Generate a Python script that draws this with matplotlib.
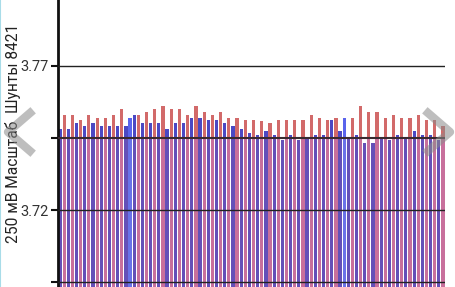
import numpy as np
import matplotlib
matplotlib.use('Agg')
import matplotlib.pyplot as plt
from matplotlib.lines import Line2D

# cell voltages, pairs of (blue, red)
blue_v = [3.7481, 3.7481, 3.7502, 3.7490, 3.7502, 3.7490, 3.7490, 3.7490,
          3.7490, 3.7531, 3.7502, 3.7502, 3.7502, 3.7481, 3.7502, 3.7502,
          3.7521, 3.7521, 3.7511, 3.7511, 3.7502, 3.7493, 3.7481, 3.7469,
          3.7462, 3.7473, 3.7462, 3.7444, 3.7462, 3.7442, 3.7454, 3.7462,
          3.7462, 3.7511, 3.7473, 3.7454, 3.7462, 3.7433, 3.7433, 3.7454,
          3.7444, 3.7462, 3.7454, 3.7473, 3.7462, 3.7462, 3.7442]
red_v = [3.7531, 3.7531, 3.7511, 3.7531, 3.7521, 3.7521, 3.7531, 3.7552,
         3.7519, 3.7531, 3.7540, 3.7552, 3.7562, 3.7552, 3.7552, 3.7531,
         3.7562, 3.7540, 3.7531, 3.7540, 3.7521, 3.7521, 3.7511, 3.7514,
         3.7510, 3.7502, 3.7511, 3.7511, 3.7511, 3.7511, 3.7531, 3.7521,
         3.7511, 3.7521, 3.7519, 3.7519, 3.7562, 3.7540, 3.7540, 3.7521,
         3.7531, 3.7521, 3.7521, 3.7531, 3.7511, 3.7511, 3.7490]
# pairs where the second bar is drawn light blue instead of red
marked = [8, 34]

y_ticks = [3.695, 3.72, 3.745, 3.77]
y_labels = ['', '3.72', '', '3.77']
mid = 3.745
ylabel = '250 мВ Масштаб  Шунты 8421'


def build_bars():
    vals = []
    cols_top = []
    cols_low = []
    for i in range(len(blue_v)):
        vals.append(blue_v[i])
        cols_top.append('#4b48c4')
        cols_low.append('#6450b8')
        vals.append(red_v[i])
        if i in marked:
            cols_top.append('#5a64ec')
            cols_low.append('#6a72e8')
        else:
            cols_top.append('#d26a6a')
            cols_low.append('#c8709c')
    return np.array(vals), cols_top, cols_low


def main():
    plt.rcParams['font.family'] = ['Roboto', 'DejaVu Sans']
    vals, cols_top, cols_low = build_bars()
    x = np.arange(len(vals))
    base = 3.69

    fig = plt.figure(figsize=(4.56, 2.87), dpi=100)
    ax = fig.add_axes([58 / 456, 0, 387 / 456, 1])

    low_top = np.minimum(vals, mid)
    ax.bar(x, low_top - base, bottom=base, width=0.78, color=cols_low, zorder=1)
    upper = np.clip(vals - mid, 0, None)
    ax.bar(x, upper, bottom=mid, width=0.78, color=cols_top, zorder=1)

    for t in y_ticks:
        if t == mid:
            ax.axhline(t, color='#3a2a30', lw=1.5, zorder=3)
        else:
            ax.axhline(t, color='#222222', lw=1.0, zorder=3)

    ax.set_xlim(-0.5, len(vals) - 0.5)
    ax.set_ylim(3.69327, 3.7929)
    ax.set_yticks(y_ticks)
    ax.set_yticklabels(y_labels, fontsize=10.5, color='#333333')
    ax.tick_params(axis='y', length=5, width=1.5, pad=2, color='#111111')
    ax.set_xticks([])
    for s in ['top', 'right', 'bottom']:
        ax.spines[s].set_visible(False)
    ax.spines['left'].set_linewidth(2)
    ax.spines['left'].set_color('#111111')

    fig.text(13 / 456, 1 - 133 / 287, ylabel, rotation=90, fontsize=11.2,
             color='#222222', ha='center', va='center')

    # page arrows
    W, H = 456.0, 287.0
    fig.add_artist(Line2D([30 / W, 8 / W, 30 / W],
                          [1 - 113 / H, 1 - 132 / H, 1 - 151 / H],
                          color='#8a8a8a', alpha=0.55, lw=6, zorder=10))
    fig.add_artist(Line2D([428 / W, 450 / W, 428 / W],
                          [1 - 113 / H, 1 - 132 / H, 1 - 151 / H],
                          color='#8a8a8a', alpha=0.55, lw=6, zorder=10))
    fig.add_artist(Line2D([0.5 / W, 0.5 / W], [0, 1], color='#a8dce8', lw=1.5))

    fig.savefig('out.png', dpi=100)


if __name__ == '__main__':
    main()
